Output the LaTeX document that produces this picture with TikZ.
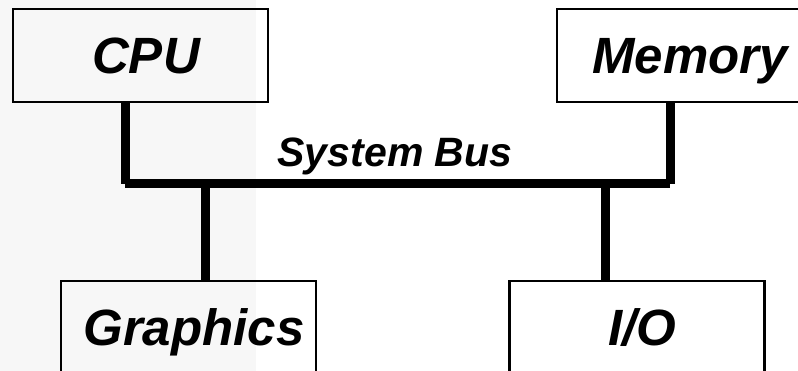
\documentclass[tikz,border=0pt]{standalone}
\usepackage{fontspec}
\setmainfont{Liberation Sans}
\usetikzlibrary{positioning}

\begin{document}
\begin{tikzpicture}[x=1pt, y=-1pt,
    unit/.style={rectangle, draw, line width=2.5pt, minimum width=255pt, minimum height=93pt,
                 inner sep=0pt, text height=36pt, text depth=0pt,
                 execute at begin node={\hspace*{11pt}},
                 font=\bfseries\itshape\fontsize{51}{51}\selectfont},
    wire/.style={line width=9pt, line cap=butt}]
    \useasboundingbox (0,0) rectangle (798,371);
    \clip (0,0) rectangle (798,371);
    \fill[black!3] (0,0) rectangle (256,371);

    \node (cpu) [unit] at (140.5,55.5) {CPU};
    \node (mem) [unit] at (684.5,55.5) {Memory};
    \node (gfx) [unit] at (188.5,327.5) {Graphics};
    \node (io)  [unit] at (637,327.5) {I/O};

    % bus corners and taps
    \coordinate (busL) at (125,184);
    \coordinate (busR) at (670,184);
    \coordinate (tapG) at (205,184);
    \coordinate (tapI) at (605,184);

    \node (bus) [anchor=base, inner sep=0pt, font=\bfseries\itshape\fontsize{41}{41}\selectfont] at (395,167) {System Bus};

    \draw[wire] (cpu.south -| busL) -- (busL);
    \draw[wire] (mem.south -| busR) -- (busR);
    \draw[wire] (busL) -- (busR);
    \draw[wire] (tapG) -- (gfx.north -| tapG);
    \draw[wire] (tapI) -- (io.north -| tapI);
\end{tikzpicture}
\end{document}
